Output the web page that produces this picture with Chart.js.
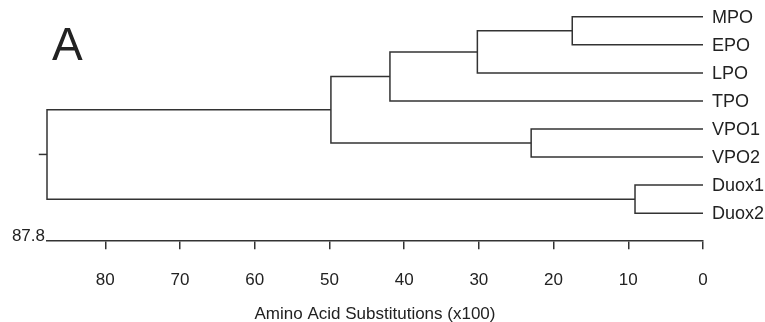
<!DOCTYPE html>
<html>
<head>
<meta charset="utf-8">
<script src="https://cdn.jsdelivr.net/npm/chart.js@4"></script>
<style>
  body { margin: 0; background: #fff; }
  #wrap { width: 765px; height: 322px; position: relative; }
</style>
</head>
<body>
<div id="wrap"><canvas id="tree"></canvas></div>
<script>
// Datos del dendrograma
const leafNames = ['MPO', 'EPO', 'LPO', 'TPO', 'VPO1', 'VPO2', 'Duox1', 'Duox2'];
const nodeNames = ['MPO-EPO', 'MPO-LPO', 'MPO-TPO', 'VPO', 'Vert', 'Duox', 'Root'];
const nodeChildren = [
    ['MPO', 'EPO'],
    ['MPO-EPO', 'LPO'],
    ['MPO-LPO', 'TPO'],
    ['VPO1', 'VPO2'],
    ['MPO-TPO', 'VPO'],
    ['Duox1', 'Duox2'],
    ['Vert', 'Duox']
];
const nodeHeights = [17.5, 30.2, 41.9, 23.0, 49.8, 9.1, 87.8];
const tickValues = [80, 70, 60, 50, 40, 30, 20, 10, 0];
const rootLabel = '87.8';
const rootStub = 1.1;

const lineColor = '#333';
const textColor = '#222';
const fontFamily = "'Liberation Sans', Arial, sans-serif";

// Altura y posición vertical de cada nodo
function heightOf(name) {
    const i = nodeNames.indexOf(name);
    return i < 0 ? 0 : nodeHeights[i];
}
function yOf(name) {
    const i = nodeNames.indexOf(name);
    if (i < 0) return leafNames.indexOf(name);
    const [a, b] = nodeChildren[i];
    return (yOf(a) + yOf(b)) / 2;
}

// Un dataset por nodo (forma de codo)
const datasets = nodeNames.map((name, i) => {
    const [a, b] = nodeChildren[i];
    const h = nodeHeights[i];
    return {
        data: [
            { x: heightOf(a), y: yOf(a) },
            { x: h, y: yOf(a) },
            { x: h, y: yOf(b) },
            { x: heightOf(b), y: yOf(b) }
        ],
        showLine: true,
        borderColor: lineColor,
        borderWidth: 1.5,
        pointRadius: 0,
        clip: false
    };
});
const rootY = yOf('Root');
datasets.push({
    data: [{ x: heightOf('Root'), y: rootY }, { x: heightOf('Root') + rootStub, y: rootY }],
    showLine: true,
    borderColor: lineColor,
    borderWidth: 1.5,
    pointRadius: 0,
    clip: false
});

// Etiquetas de hojas, letra del panel y valor de la raíz
const labelsPlugin = {
    id: 'treeLabels',
    afterDraw(chart) {
        const { ctx, scales } = chart;
        const xs = scales.x, ys = scales.y;
        ctx.save();
        ctx.fillStyle = textColor;
        ctx.font = '18px ' + fontFamily;
        ctx.textAlign = 'left';
        ctx.textBaseline = 'middle';
        leafNames.forEach((n, i) => {
            ctx.fillText(n, xs.getPixelForValue(0) + 9, ys.getPixelForValue(i) + 1);
        });
        ctx.font = '17px ' + fontFamily;
        ctx.textAlign = 'right';
        ctx.textBaseline = 'alphabetic';
        ctx.fillText(rootLabel, xs.getPixelForValue(heightOf('Root')) - 2, ys.bottom);
        ctx.textAlign = 'left';
        ctx.font = '46px ' + fontFamily;
        ctx.fillText('A', 52, 60);
        ctx.restore();
    }
};

new Chart(document.getElementById('tree'), {
    type: 'scatter',
    data: { datasets },
    options: {
        responsive: true,
        maintainAspectRatio: false,
        animation: false,
        layout: { padding: { left: 47, right: 62, top: 0, bottom: 0 } },
        plugins: {
            legend: { display: false },
            tooltip: { enabled: false }
        },
        scales: {
            x: {
                type: 'linear',
                min: 0,
                max: 87.8,
                reverse: true,
                afterBuildTicks: (s) => { s.ticks = tickValues.map(v => ({ value: v })); },
                grid: { drawOnChartArea: false, tickLength: 8, color: lineColor, lineWidth: 1.5 },
                border: { color: lineColor, width: 1.5 },
                ticks: { color: textColor, padding: 21, maxRotation: 0, font: { size: 17, family: fontFamily } },
                title: {
                    display: true,
                    text: 'Amino Acid Substitutions (x100)',
                    color: textColor,
                    font: { size: 17, family: fontFamily },
                    padding: { top: -7, bottom: -3 }
                }
            },
            y: {
                display: false,
                reverse: true,
                min: -0.6,
                max: 8
            }
        }
    },
    plugins: [labelsPlugin]
});
</script>
</body>
</html>
